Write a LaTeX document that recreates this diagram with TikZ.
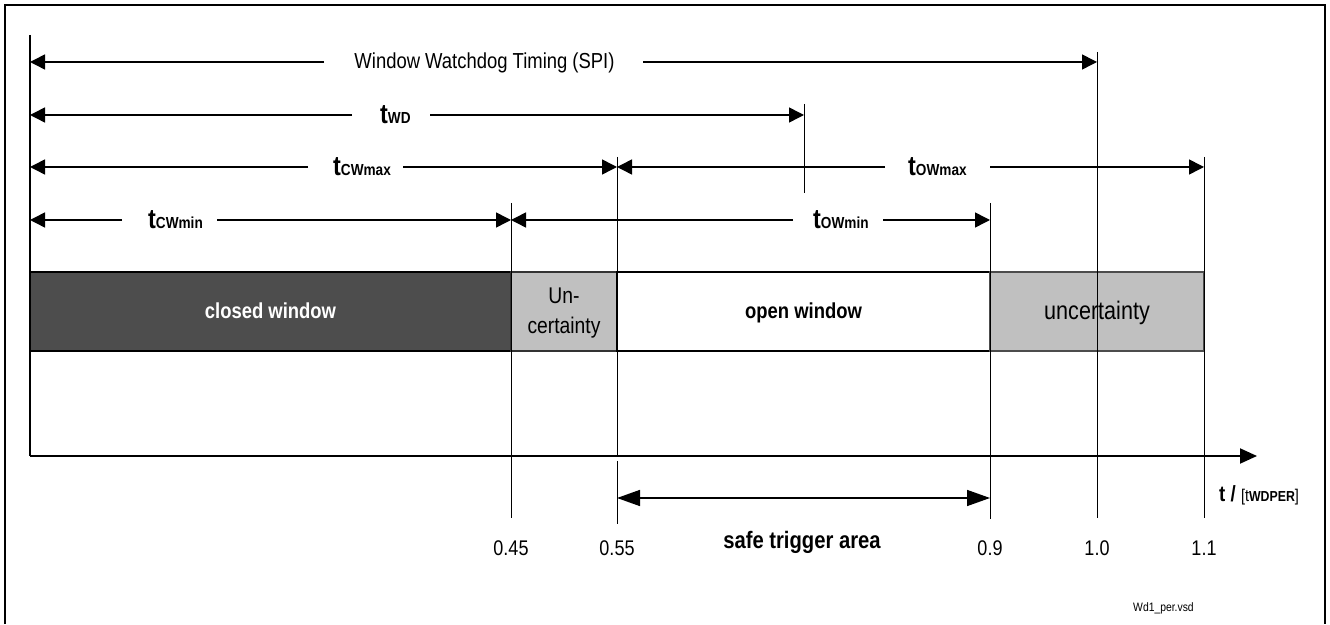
\documentclass[tikz,border=0pt]{standalone}
\usepackage{fontspec}
\setmainfont{Liberation Sans}[FakeStretch=0.85]
\usetikzlibrary{arrows.meta}
\definecolor{cwdark}{HTML}{4D4D4D}
\definecolor{unc}{HTML}{C0C0C0}
\newcommand\fs[1]{\fontsize{#1}{#1}\selectfont}
\newcommand\mytl[1]{{\fs{27.5}\bfseries t}{\fs{16}\bfseries #1}}
\begin{document}
\begin{tikzpicture}[x=1pt,y=1pt,
  arr/.style={line width=1.5pt,-{Triangle[length=15pt,width=15pt]}},
  safearr/.style={line width=1.5pt,{Triangle[length=23pt,width=16pt]}-{Triangle[length=23pt,width=16pt]}},
  axisline/.style={line width=2pt},
  tickline/.style={line width=0.9pt},
  lbl/.style={inner sep=0pt,anchor=base west},
  winbox/.style={draw,inner sep=0pt,minimum height=79pt,line width=1.8pt},
  numlbl/.style={inner sep=0pt,anchor=base,font=\fs{21.2}}]
\useasboundingbox (0,0) rectangle (1330,624);
% frame
\draw[line width=1.2pt] (5,0) -- (5,619) -- (1325,619) -- (1325,0);
% boxes
\node[winbox,fill=cwdark,minimum width=481pt] (cw) at (270.5,312.5) {};
\node[winbox,fill=unc,line width=1.2pt,draw=black!80,minimum width=106pt] (u1) at (564,312.5) {};
\node[winbox,fill=white,minimum width=373pt] (ow) at (803.5,312.5) {};
\node[winbox,fill=unc,line width=1.2pt,draw=black!70,minimum width=214pt] (u2) at (1097,312.5) {};
\node[inner sep=0pt,anchor=base,text=white,font=\fs{21.7}\bfseries] (cwt) at (270.5,305) {closed window};
\node[inner sep=0pt,align=center,font=\fontsize{22.7}{30}\selectfont] (u1t) at (564,310.5) {Un-\\certainty};
\node[inner sep=0pt,anchor=base,font=\fs{21.7}\bfseries] (owt) at (803.5,305) {open window};
\node[inner sep=0pt,anchor=base,font=\fs{25.4}] (u2t) at (1097,304) {uncertainty};
% coordinates
\coordinate (ax0) at (30,589);
\coordinate (o) at (30,168);
\coordinate (axend) at (1257,168);
\coordinate (t045a) at (511,421); \coordinate (t045b) at (511,106);
\coordinate (t055a) at (617,467); \coordinate (t055b) at (617,168);
\coordinate (t055c) at (617,163); \coordinate (t055d) at (617,100);
\coordinate (t09a) at (990,421); \coordinate (t09b) at (990,105);
\coordinate (t10a) at (1097,572); \coordinate (t10b) at (1097,106);
\coordinate (t11a) at (1204,467); \coordinate (t11b) at (1204,106);
\coordinate (twda) at (804,520); \coordinate (twdb) at (804,431);
% vertical lines
\draw[tickline] (t045a) -- (t045b);
\draw[tickline] (t055a) -- (t055b);
\draw[tickline] (t055c) -- (t055d);
\draw[tickline] (t09a) -- (t09b);
\draw[tickline] (t10a) -- (t10b);
\draw[tickline] (t11a) -- (t11b);
\draw[tickline] (twda) -- (twdb);
% axes
\draw[axisline] (ax0) -- (o);
\draw[axisline,-{Triangle[length=17pt,width=15pt]}] (o) -- (axend);
% row 1
\node[inner sep=0pt,anchor=base,font=\fs{21.7}] (wwt) at (484.5,555) {Window Watchdog Timing (SPI)};
\coordinate (r1l0) at (30,562); \coordinate (r1l) at (324,562);
\coordinate (r1r) at (643,562); \coordinate (r1r0) at (1097,562);
\draw[arr] (r1l) -- (r1l0);
\draw[arr] (r1r) -- (r1r0);
% row 2
\node[lbl] (twd) at (380,500) {\mytl{WD}};
\coordinate (r2l0) at (30,509); \coordinate (r2l) at (352,509);
\coordinate (r2r) at (430,509); \coordinate (r2r0) at (804,509);
\draw[arr] (r2l) -- (r2l0);
\draw[arr] (r2r) -- (r2r0);
% row 3
\node[lbl] (tcwmax) at (333,448) {\mytl{CWmax}};
\node[lbl] (towmax) at (908,448) {\mytl{OWmax}};
\coordinate (r3a) at (30,457); \coordinate (r3b) at (308,457);
\coordinate (r3c) at (403,457); \coordinate (r3d) at (617,457);
\coordinate (r3e) at (885,457); \coordinate (r3f) at (990,457);
\coordinate (r3g) at (1204,457);
\draw[arr] (r3b) -- (r3a);
\draw[arr] (r3c) -- (r3d);
\draw[arr] (r3e) -- (r3d);
\draw[arr] (r3f) -- (r3g);
% row 4
\node[lbl] (tcwmin) at (148,395) {\mytl{CWmin}};
\node[lbl] (towmin) at (813,395) {\mytl{OWmin}};
\coordinate (r4a) at (30,404); \coordinate (r4b) at (122,404);
\coordinate (r4c) at (217,404); \coordinate (r4d) at (511,404);
\coordinate (r4e) at (793,404); \coordinate (r4f) at (883,404);
\coordinate (r4g) at (990,404);
\draw[arr] (r4b) -- (r4a);
\draw[arr] (r4c) -- (r4d);
\draw[arr] (r4e) -- (r4d);
\draw[arr] (r4f) -- (r4g);
% safe trigger area
\coordinate (sa) at (617,126); \coordinate (sb) at (990,126);
\draw[safearr] (sa) -- (sb);
\node[inner sep=0pt,anchor=base,font=\fs{23.8}\bfseries] (safe) at (802,76) {safe trigger area};
% numbers
\node[numlbl] (n045) at (511,69) {0.45};
\node[numlbl] (n055) at (617,69) {0.55};
\node[numlbl] (n09) at (990,69) {0.9};
\node[numlbl] (n10) at (1097,69) {1.0};
\node[numlbl] (n11) at (1204,69) {1.1};
% axis label
\node[lbl] (tlab) at (1219,122) {{\fs{22}\bfseries t / }{\fs{17}[t}{\fs{14.5}\bfseries WDPER}{\fs{17}]}};
\node[lbl,font=\fs{12.2}] (file) at (1133,13) {Wd1\_per.vsd};
\end{tikzpicture}
\end{document}
